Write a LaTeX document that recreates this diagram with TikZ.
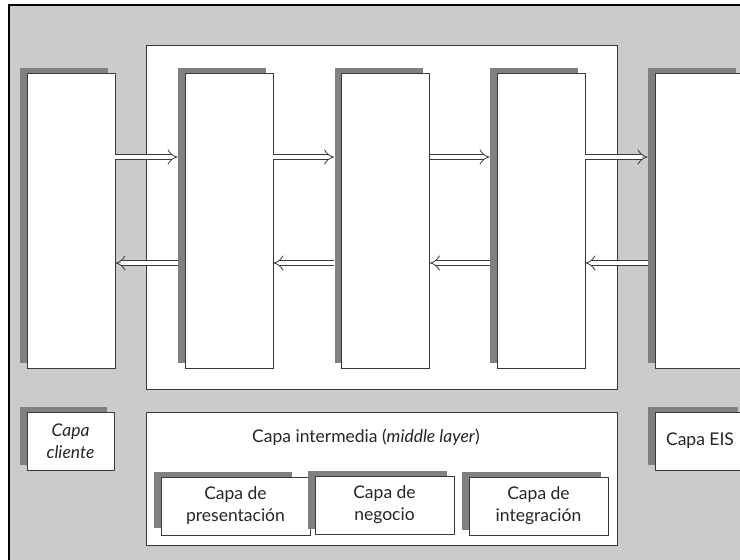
\documentclass[tikz,border=0pt]{standalone}
\usepackage{fontspec}
\setmainfont{Lato}
\usetikzlibrary{arrows.meta,shadows}
\definecolor{pagegray}{HTML}{CBCBCB}
\definecolor{shadowgray}{HTML}{808080}
\definecolor{edgegray}{HTML}{3A3A3A}
\begin{document}
\begin{tikzpicture}[x=1pt,y=-1pt,
  plainbox/.style={draw=edgegray, line width=0.8pt, fill=white, inner sep=0pt},
  box/.style={plainbox,
    general shadow={fill=shadowgray, shadow xshift=-7pt, shadow yshift=5pt}},
  column/.style={box, minimum width=88pt, minimum height=295pt},
  txt/.style={font=\fontsize{17.5}{22}\selectfont, text=black!85},
  tagbox/.style={box, txt, minimum height=58pt, align=center},
  plaintag/.style={plainbox, txt, minimum height=58pt, align=center},
  flow/.style={draw=edgegray, line width=0.8pt, double=white,
    double distance=4.6pt, -{Implies[scale=1.8]}},
]
\useasboundingbox (0,0) rectangle (740,560);

% page background with its left and top rule
\fill[pagegray] (9,5) rectangle (760,580);
\draw[black, line width=1.2pt] (9,580) -- (9,5) -- (760,5);

% container of the middle tier
\node[plainbox, minimum width=471pt, minimum height=344pt] (mid) at (381.5,217) {};

% the five tiers
\node[column] (c1) at (71,220.5) {};
\node[column] (c2) at (229,220.5) {};
\node[column] (c3) at (385.5,220.5) {};
\node[column] (c4) at (541,220.5) {};
\node[column] (c5) at (699,220.5) {};

% request / response arrows
\coordinate (up) at (0,157);
\coordinate (down) at (0,263);
\draw[flow] (c1.east |- up) -- ([xshift=-7pt]c2.west |- up);
\draw[flow] (c2.east |- up) -- ([xshift=-7pt]c3.west |- up);
\draw[flow] (c3.east |- up) -- ([xshift=-7pt]c4.west |- up);
\draw[flow] (c4.east |- up) -- ([xshift=-7pt]c5.west |- up);
\draw[flow] ([xshift=-7pt]c2.west |- down) -- (c1.east |- down);
\draw[flow] ([xshift=-7pt]c3.west |- down) -- (c2.east |- down);
\draw[flow] ([xshift=-7pt]c4.west |- down) -- (c3.east |- down);
\draw[flow] ([xshift=-7pt]c5.west |- down) -- (c4.east |- down);

% legend
\node[tagbox, minimum width=87pt, font=\fontsize{17.5}{22}\selectfont\itshape] (cli) at (70.5,441) {Capa\\cliente};
\node[plainbox, minimum width=471pt, minimum height=133pt] (midlbl) at (381.5,478.5) {};
\node[txt] (midtitle) at (366,437) {Capa intermedia (\textit{middle layer})};
\fill[shadowgray] (154,472) rectangle (292,528);
\node[plaintag, minimum width=149pt] (pres) at (235.5,506) {Capa de\\presentación};
\node[tagbox, minimum width=139pt] (neg) at (384.5,505) {Capa de\\negocio};
\node[tagbox, minimum width=139pt] (integ) at (538.5,506) {Capa de\\integración};
\node[tagbox, minimum width=90pt] (eis) at (700,441) {Capa EIS};
\end{tikzpicture}
\end{document}
